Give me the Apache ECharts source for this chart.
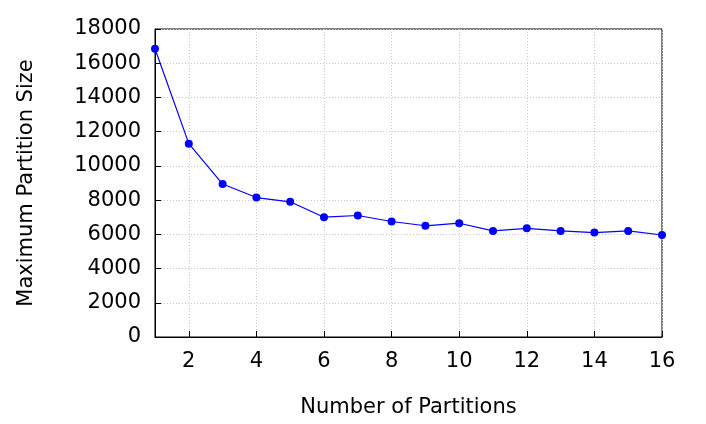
<!DOCTYPE html>
<html><head><meta charset="utf-8">
<script src="https://cdn.jsdelivr.net/npm/echarts@6/dist/echarts.min.js"></script>
<style>html,body{margin:0;padding:0;background:#fff}#c{width:706px;height:424px}</style>
</head><body><div id="c"></div>
<script>
const partitions = ['1','2','3','4','5','6','7','8','9','10','11','12','13','14','15','16'];
const maxSize = [16850,11300,8940,8150,7900,7000,7100,6750,6500,6650,6200,6350,6200,6100,6200,5960];
const chart = echarts.init(document.getElementById('c'));
const font = 'DejaVu Sans';
const even = (i) => i % 2 === 1;
chart.setOption({
  animation: false,
  grid: {left: 155, right: 44, top: 29, bottom: 87, show: true, borderColor: '#000', borderWidth: 1},
  xAxis: {
    type: 'category', data: partitions, boundaryGap: false,
    name: 'Number of Partitions', nameLocation: 'middle', nameGap: 60,
    nameTextStyle: {fontFamily: font, fontSize: 21, color: '#000'},
    axisLine: {lineStyle: {color: '#000'}},
    axisTick: {inside: true, interval: even, length: 6, lineStyle: {color: '#000'}},
    axisLabel: {interval: even, fontFamily: font, fontSize: 21, color: '#000', margin: 14},
    splitLine: {show: true, interval: even, lineStyle: {color: '#ccc', type: [1, 2]}}
  },
  yAxis: {
    type: 'value', min: 0, max: 18000, interval: 2000,
    name: 'Maximum Partition Size', nameLocation: 'middle', nameGap: 118,
    nameTextStyle: {fontFamily: font, fontSize: 21, color: '#000'},
    axisLine: {show: true, lineStyle: {color: '#000'}},
    axisTick: {show: true, inside: true, length: 6, lineStyle: {color: '#000'}},
    axisLabel: {fontFamily: font, fontSize: 21, color: '#000', margin: 14, formatter: (v) => String(v)},
    splitLine: {show: true, lineStyle: {color: '#ccc', type: [1, 2]}}
  },
  series: [{
    type: 'line', data: maxSize, symbol: 'circle', symbolSize: 8,
    itemStyle: {color: '#0000ff'}, lineStyle: {color: '#0000ff', width: 1.2}
  }]
});
</script></body></html>
